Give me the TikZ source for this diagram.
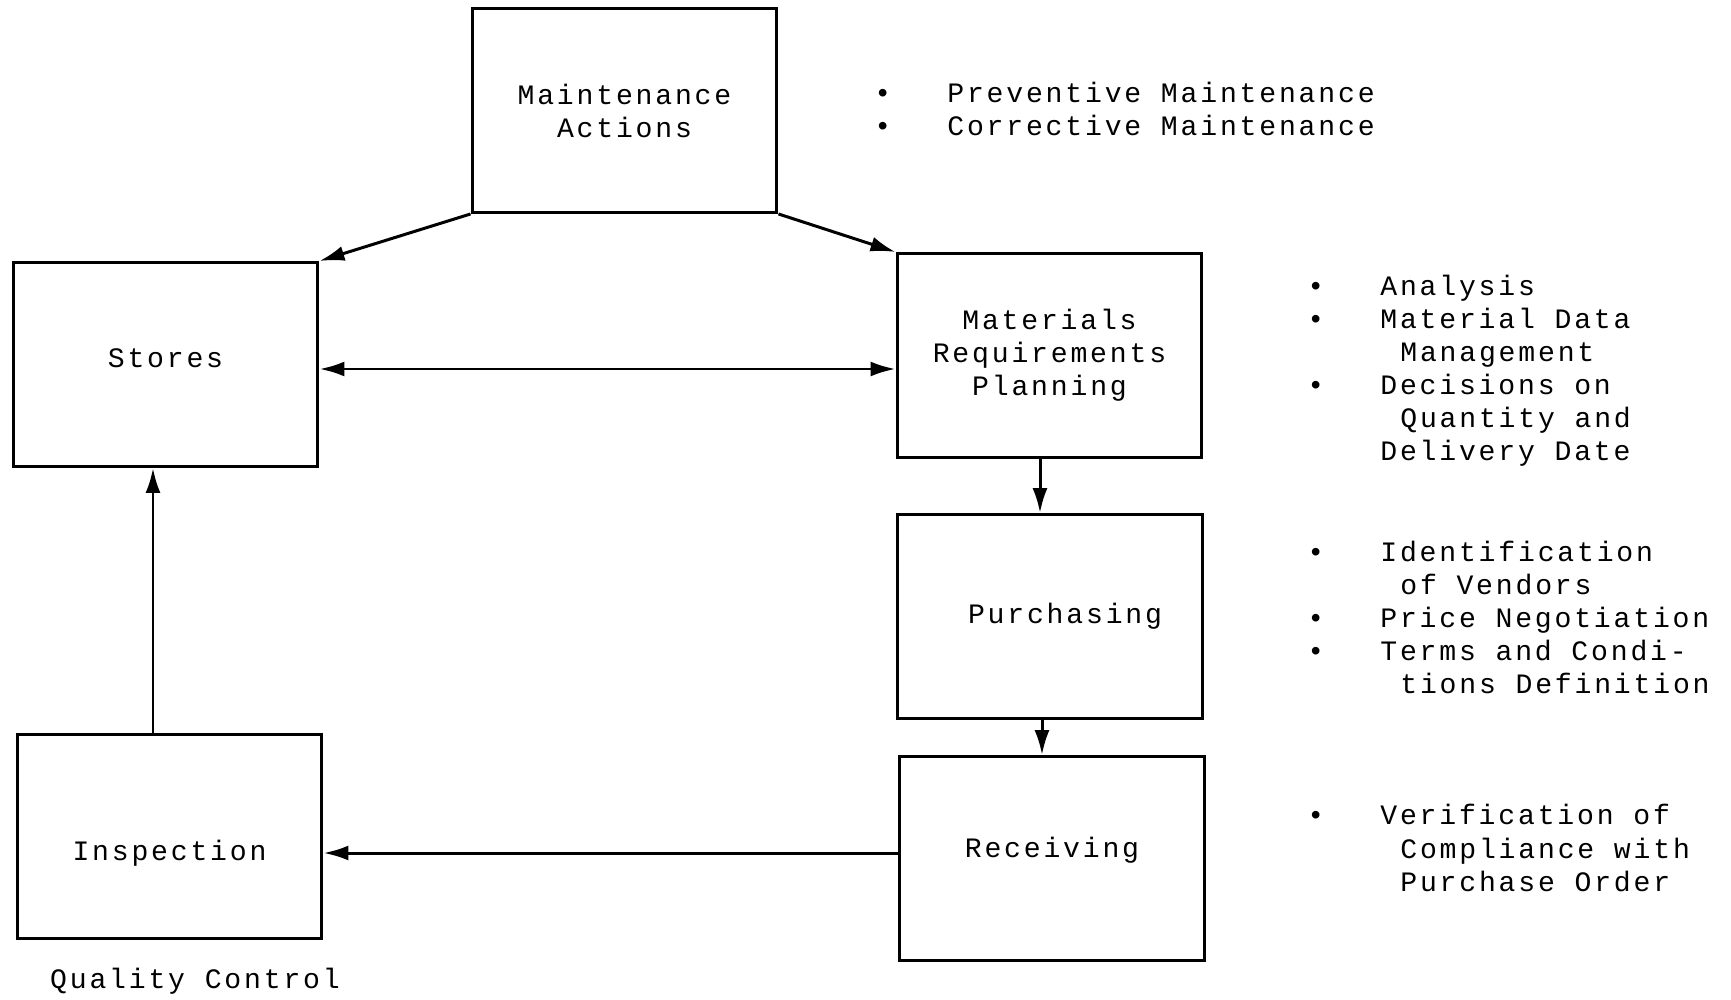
\documentclass[tikz,border=0pt]{standalone}
\usepackage{fontspec}
\newfontfamily\typefont{Liberation Mono}[LetterSpace=10]
\usetikzlibrary{arrows.meta}
\newcommand{\bul}[1]{\makebox[1.46cm][l]{•}#1}
\newcommand{\cont}[1]{\hspace*{1.86cm}#1}
\newcommand{\lift}[2]{\raisebox{#1}[\height][\depth]{#2}}
\tikzset{
  block/.style={draw,line width=1.7pt,minimum width=6.1cm,minimum height=4.08cm,inner sep=0pt,align=center},
  flow/.style={line width=1.7pt,-{Latex[length=0.5cm,width=0.3cm]}},
  both/.style={line width=1.7pt,{Latex[length=0.5cm,width=0.3cm]}-{Latex[length=0.5cm,width=0.3cm]}},
  note/.style={align=left,anchor=west,inner sep=0pt}
}

\begin{document}
\begin{tikzpicture}[x=0.02cm,y=-0.02cm,every node/.style={font=\typefont\fontsize{16}{18.8}\selectfont}]
  \useasboundingbox (0,0) rectangle (1731,1000);

  \node[block] (ma) at (624.5,110.5) {Maintenance\\Actions};
  \node[block] (st) at (165.5,364.5) {\lift{0.12cm}{Stores}};
  \node[block] (mrp) at (1049.5,355.5) {Materials\\Requirements\\Planning};
  \node[block] (pur) at (1050,616.5) {\hspace*{0.6cm}Purchasing};
  \node[block] (rec) at (1052,858.5) {\lift{0.16cm}{Receiving}};
  \node[block] (ins) at (169.5,836.5) {\lift{-0.33cm}{Inspection}};
  \node (qc) at (195,981) {Quality Control};

  % bullet lists
  \node[note] (pm) at (874,109) {\bul{Preventive Maintenance}\\\bul{Corrective Maintenance}};
  \node[note] (ana) at (1307,370.5) {\bul{Analysis}\\\bul{Material Data}\\\cont{Management}\\\bul{Decisions on}\\\cont{Quantity and}\\\hspace*{1.46cm}Delivery Date};
  \node[note] (ven) at (1307,617.5) {\bul{Identification}\\\cont{of Vendors}\\\bul{Price Negotiation}\\\bul{Terms and Condi-}\\\cont{tions Definition}};
  \node[note] (ver) at (1307,848) {\bul{Verification of}\\\cont{Compliance with}\\\cont{Purchase Order}};

  \draw[flow] (ma.south west) -- (st.north east);
  \draw[flow] (ma.south east) -- (mrp.north west);
  \draw[both] ([yshift=-0.09cm]st.east) -- ([yshift=-0.09cm]st.east -| mrp.west);
  \draw[flow] ([xshift=-0.19cm]mrp.south) -- ([xshift=-0.19cm]mrp.south |- pur.north);
  \draw[flow] ([xshift=-0.16cm]pur.south) -- ([xshift=-0.16cm]pur.south |- rec.north);
  \draw[flow] ([yshift=0.11cm]rec.west) -- ([yshift=0.11cm]rec.west -| ins.east);
  \draw[flow] ([xshift=-0.33cm]ins.north) -- ([xshift=-0.33cm]ins.north |- st.south);
\end{tikzpicture}
\end{document}
